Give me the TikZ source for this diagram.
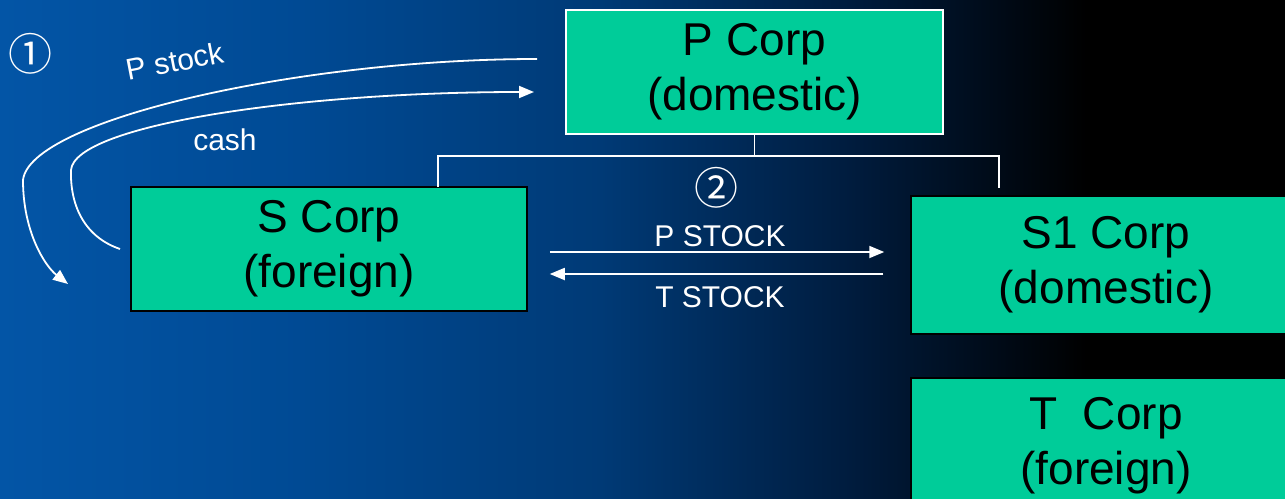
\documentclass[tikz,border=0pt]{standalone}
\usepackage{fontspec}
\setmainfont{Liberation Sans}
\newfontfamily\circfont{Noto Sans CJK SC}
\usetikzlibrary{arrows.meta}
\definecolor{boxgreen}{RGB}{0,204,153}
\definecolor{bgA}{RGB}{3,85,166}
\definecolor{bgB}{RGB}{0,74,148}
\definecolor{bgC}{RGB}{0,58,118}
\definecolor{bgD}{RGB}{0,28,62}
\tikzset{
  corp/.style={draw=black, line width=1.5pt, fill=boxgreen, align=center,
    inner sep=0pt, font=\fontsize{46}{55}\selectfont},
  wire/.style={draw=white, line width=1.5pt},
  flow/.style={draw=white, line width=1.8pt, -{Triangle[length=15pt,width=12pt]}},
  lbl/.style={text=white, font=\fontsize{30}{36}\selectfont, inner sep=0pt},
  circ/.style={text=white, font=\circfont\fontsize{44}{48}\selectfont, inner sep=0pt}
}
\begin{document}
\begin{tikzpicture}[x=1pt, y=-1pt]
\useasboundingbox (0,0) rectangle (1285,498);
\clip (0,0) rectangle (1285,498);
% background: blue fading to black towards the right
\fill[left color=bgA, right color=bgB] (0,0) rectangle (301,498);
\fill[left color=bgB, right color=bgC] (300,0) rectangle (601,498);
\fill[left color=bgC, right color=bgD] (600,0) rectangle (851,498);
\fill[left color=bgD, right color=black] (850,0) rectangle (1086,498);
\fill[black] (1085,0) rectangle (1285,498);

% companies
\node[corp, draw=white, minimum width=377pt, minimum height=124pt] (P) at (754.5,72) {P Corp\\(domestic)};
\node[corp, minimum width=396pt, minimum height=124pt] (S) at (329,249) {S Corp\\(foreign)};
\node[corp, minimum width=390pt, minimum height=138pt] (S1) at (1106,265) {S1 Corp\\(domestic)};
\node[corp, minimum width=390pt, minimum height=136pt] (T) at (1106,446) {T\ \ Corp\\(foreign)};

% ownership tree
\coordinate (sjoin) at (438,187);
\coordinate (s1join) at (999,188);
\draw[wire] (P.south) -- ++(0,21) -| (sjoin);
\draw[wire] (P.south) -- ++(0,21) -| (s1join);

% step 1: P stock down to S, cash up to P
\coordinate (pstockA) at (537,59);
\coordinate (pstockB) at (68,284);
\coordinate (cashA) at (120,249);
\coordinate (cashB) at (534,92);
\draw[flow] (pstockA) .. controls (300,59) and (30,120) .. (23,180)
  .. controls (23,232) and (45,266) .. (pstockB);
\draw[flow] (cashA) .. controls (82,236) and (70,202) .. (71,170)
  .. controls (75,125) and (300,92) .. (cashB);
\node[circ] (one) at (31,54) {①};
\node[lbl, rotate=11] (pstk) at (175,61) {P stock};
\node[lbl] (cash) at (225,140) {cash};

% step 2: exchange between S and S1
\draw[flow] ([shift={(22,3)}]S.east) -- ([shift={(-26,-13)}]S1.west);
\draw[flow] ([shift={(-27,9)}]S1.west) -- ([shift={(22,25)}]S.east);
\node[circ] (two) at (716,188) {②};
\node[lbl] (pst) at (720,236) {P STOCK};
\node[lbl] (tst) at (720,297) {T STOCK};
\end{tikzpicture}
\end{document}
